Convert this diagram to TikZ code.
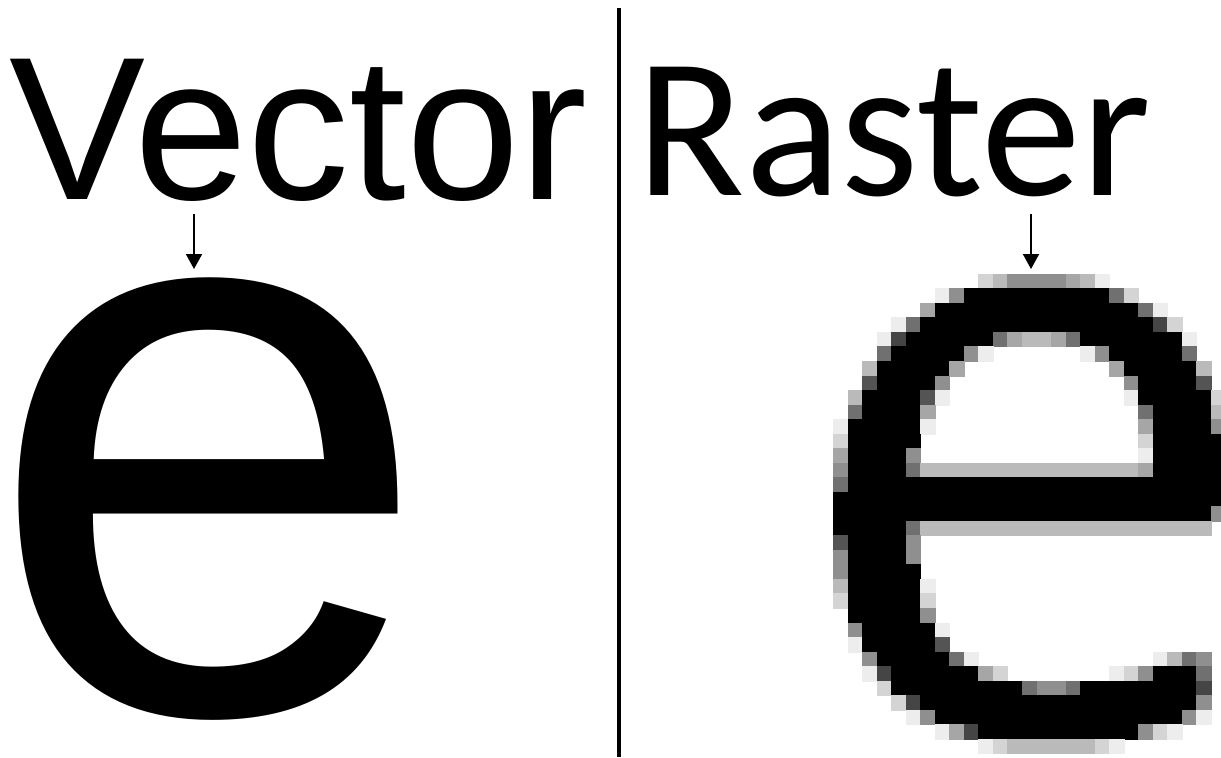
\documentclass[tikz,border=0pt]{standalone}
\usepackage{fontspec}
\usepackage{tikz}
\usetikzlibrary{arrows.meta}
\setmainfont{Liberation Sans}
\newfontfamily\rasfont{Carlito}

% one row of the raster e: a digit per pixel, 0 white ... 9 black
\newcount\pixcol
\newcommand\pixrow[2]{\global\pixcol=0 \def\pixy{#1}\pixscan#2.}
\def\pixscan#1{\ifx#1.\else\pixone{#1}\expandafter\pixscan\fi}
\newcommand\pixone[1]{%
  \ifnum#1>0\relax
    \edef\pixk{\ifcase#1 0\or7\or17\or27\or35\or44\or56\or67\or73\or100\fi}%
    \filldraw[black!\pixk, line width=0.2pt] (\the\pixcol,\pixy) rectangle ++(1,1);%
  \fi
  \global\advance\pixcol by 1\relax}

\begin{document}
\begin{tikzpicture}[x=0.5pt, y=-0.5pt,
  word/.style={inner sep=0pt, anchor=base west},
  arr/.style={-{Triangle[width=8pt, length=7.5pt]}, line width=1pt},
  divider/.style={line width=1.75pt}]
\useasboundingbox (0,0) rectangle (1221,757);

% left half: vector
\node[word, font=\rmfamily\fontsize{102pt}{102pt}\selectfont] (vector) at (9,199) {Vector};
\node[word, text height=216pt, text depth=5pt, font=\rmfamily\fontsize{404pt}{404pt}\selectfont]
  (vece) at (13,712.5) {\kern-14.6pt e};

% right half: raster
\node[word, font=\rasfont\fontsize{100pt}{100pt}\selectfont] (raster) at (636,195) {Raster};
\begin{scope}
  \clip (0,0) rectangle (1221,757);
  \begin{scope}[shift={(833.3,274)}, x=7.265pt, y=-7.265pt]
    \pixrow{0}{0000000000 235555431}
    \pixrow{1}{0000000 15 9999999999 62}
    \pixrow{2}{000000 4 9999999 9999999 61}
    \pixrow{3}{0000 16 99999999 99999999 82}
    \pixrow{4}{000 18 999999 643346 9999999 1}
    \pixrow{5}{000 6 99999 51 000000 15 99999 6}
    \pixrow{6}{00 3 99999 4 0000000000 4 99999 3}
    \pixrow{7}{00 7 9999 5 000000000000 5 9999 7}
    \pixrow{8}{0 3 9999 71 000000000000 1 99999 2}
    \pixrow{9}{0 6 9999 4 00000000000000 6 9999 3}
    \pixrow{10}{1 99999 1 00000000000000 4 9999 5}
    \pixrow{11}{2 99999 000000000000000 2 99999}
    \pixrow{12}{4 9999 5 000000000000000 1 99999}
    \pixrow{13}{5 9999 6 333333333333333 4 99999}
    \pixrow{14}{6 9999999999999 9999999999999}
    \pixrow{15}{999999999 999999999 999999999}
    \pixrow{16}{9999999999999 9999999999999 5}
    \pixrow{17}{99999 6 3333333333 3333333333}
    \pixrow{18}{7 9999 5}
    \pixrow{19}{5 9999 5}
    \pixrow{20}{5 99999}
    \pixrow{21}{3 99999 1}
    \pixrow{22}{2 99999 2}
    \pixrow{23}{0 99999 5}
    \pixrow{24}{0 5 99999 1}
    \pixrow{25}{0 1 99999 7}
    \pixrow{26}{00 5 99999 61 000000000000 1365}
    \pixrow{27}{00 18 999999 42 0000000 125 999 6}
    \pixrow{28}{000 2 999999999 6556 99999999 8}
    \pixrow{29}{0000 28 9999999999 999999999 5}
    \pixrow{30}{00000 15 99999999 999999999 51}
    \pixrow{31}{0000000 148 99999999999 521}
    \pixrow{32}{0000000000 12 333333 21}
  \end{scope}
\end{scope}

% arrows down to the two e's
\coordinate (vtail) at (194,214);
\coordinate (vtip) at (194,269);
\coordinate (rtail) at (1031,214);
\coordinate (rtip) at (1031,269);
\draw[arr] (vtail) -- (vtip);
\draw[arr] (rtail) -- (rtip);

% divider
\coordinate (divtop) at (619,8);
\coordinate (divbot) at (619,757);
\draw[divider] (divtop) -- (divbot);
\end{tikzpicture}
\end{document}
